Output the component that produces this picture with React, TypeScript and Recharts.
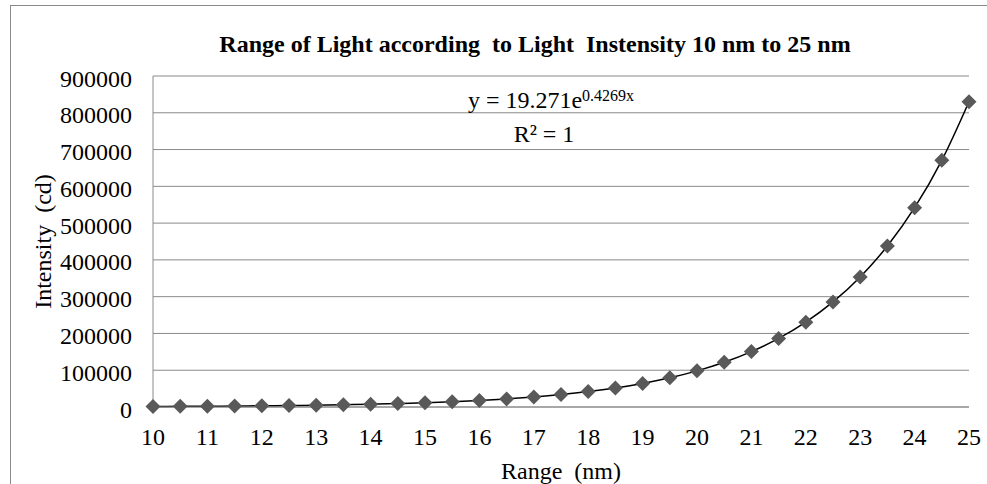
import React from 'react';
import { ComposedChart, XAxis, YAxis, CartesianGrid, Scatter, Line, Label } from 'recharts';

const rangeNm = [10, 10.5, 11, 11.5, 12, 12.5, 13, 13.5, 14, 14.5, 15, 15.5, 16, 16.5, 17, 17.5, 18, 18.5, 19, 19.5, 20, 20.5, 21, 21.5, 22, 22.5, 23, 23.5, 24, 24.5, 25];
const intensityCd = [1377, 1704, 2110, 2613, 3234, 4003, 4955, 6134, 7593, 9399, 11634, 14401, 17827, 22068, 27317, 33815, 41858, 51816, 64141, 79398, 98283, 121663, 150604, 186428, 230772, 285660, 353604, 437706, 541840, 670750, 830295];
const xTicks = [10, 11, 12, 13, 14, 15, 16, 17, 18, 19, 20, 21, 22, 23, 24, 25];
const yTicks = [0, 100000, 200000, 300000, 400000, 500000, 600000, 700000, 800000, 900000];

const chartTitle = 'Range of Light according  to Light  Instensity 10 nm to 25 nm';
const xAxisTitle = 'Range\u00a0 (nm)';
const yAxisTitle = 'Intensity\u00a0 (cd)';
const equationBase = 'y = 19.271e';
const equationExp = '0.4269x';
const rSquaredText = 'R² = 1';

const data = rangeNm.map((r, i) => ({ range: r, intensity: intensityCd[i] }));

const FONT = '"Liberation Serif", "Times New Roman", serif';
const GRID = '#8a8a8a';

const Diamond = (props: any) => {
  const { cx, cy } = props;
  if (cx == null || cy == null) return null;
  const r = 7.5;
  return (
    <polygon
      points={`${cx},${cy - r} ${cx + r},${cy} ${cx},${cy + r} ${cx - r},${cy}`}
      fill="#595959"
    />
  );
};

export default function App() {
  return (
    <div style={{ position: 'absolute', left: 0, top: 0, width: 987, height: 484, overflow: 'hidden', background: '#fff' }}>
      <div style={{ position: 'absolute', left: 10, top: 5, width: 1000, height: 520, border: `1px solid ${GRID}`, boxSizing: 'border-box' }} />
      <div style={{ position: 'absolute', left: 0, top: 0 }}>
        <ComposedChart width={987} height={484} data={data} margin={{ top: 76, right: 18, bottom: 0, left: 0 }}>
          <CartesianGrid vertical={false} stroke={GRID} strokeWidth={1} />
          <XAxis
            type="number"
            dataKey="range"
            domain={[10, 25]}
            ticks={xTicks}
            interval={0}
            height={77}
            tickLine={false}
            tickSize={0}
            tickMargin={21}
            axisLine={{ stroke: GRID }}
            tick={{ fill: '#000', fontSize: 24, fontFamily: FONT }}
          >
            <Label value={xAxisTitle} position="insideBottom" offset={5} style={{ fill: '#000', fontSize: 24, fontFamily: FONT }} />
          </XAxis>
          <YAxis
            type="number"
            domain={[0, 900000]}
            ticks={yTicks}
            interval={0}
            width={153}
            tickLine={false}
            tickSize={0}
            tickMargin={21}
            axisLine={{ stroke: GRID }}
            tick={{ fill: '#000', fontSize: 24, fontFamily: FONT, dy: 2 }}
          >
            <Label value={yAxisTitle} angle={-90} position="insideLeft" offset={42} style={{ textAnchor: 'middle', fill: '#000', fontSize: 24, fontFamily: FONT }} />
          </YAxis>
          <Scatter dataKey="intensity" shape={Diamond} isAnimationActive={false} />
          <Line dataKey="intensity" type="monotone" stroke="#000" strokeWidth={1.5} dot={false} activeDot={false} isAnimationActive={false} />
        </ComposedChart>
      </div>
      <svg width={987} height={484} style={{ position: 'absolute', left: 0, top: 0, pointerEvents: 'none' }}>
        <text x={535} y={52} textAnchor="middle" fontFamily={FONT} fontWeight="bold" fontSize={24} fill="#000" style={{ whiteSpace: 'pre' }}>{chartTitle}</text>
        <text x={551} y={108} textAnchor="middle" fontFamily={FONT} fontSize={24} fill="#000">
          {equationBase}
          <tspan fontSize={16} dy={-7}>{equationExp}</tspan>
        </text>
        <text x={544} y={142} textAnchor="middle" fontFamily={FONT} fontSize={24} fill="#000">{rSquaredText}</text>
      </svg>
    </div>
  );
}
